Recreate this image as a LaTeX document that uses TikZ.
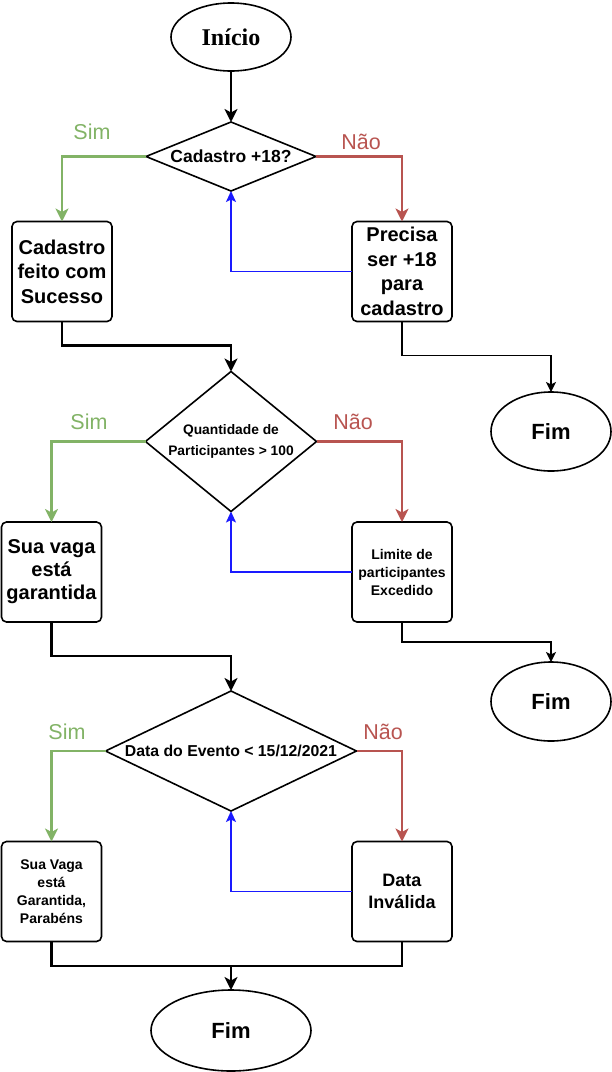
\documentclass[tikz,border=0pt]{standalone}
\usepackage{fontspec}
\setmainfont{Liberation Sans}
\newfontfamily\timesfont{Liberation Serif}
\usetikzlibrary{shapes.geometric,arrows.meta,calc}
\definecolor{simgreen}{HTML}{82B366}
\definecolor{naored}{HTML}{B85450}
\definecolor{backblue}{HTML}{1A1AFF}
\begin{document}
\begin{tikzpicture}[x=1pt,y=-1pt,
  box/.style={draw, line width=1.6pt, rounded corners=5pt, minimum width=100pt, minimum height=100pt, inner sep=0pt, outer sep=0pt, align=center},
  bigtxt/.style={font=\bfseries\fontsize{20}{24.5}\selectfont},
  smalltxt/.style={font=\bfseries\fontsize{14}{18}\selectfont},
  dec/.style={diamond, draw, line width=1.6pt, inner sep=0pt, outer sep=0pt, align=center},
  term/.style={ellipse, draw, line width=1.6pt, inner sep=0pt, outer sep=0pt, font=\bfseries\fontsize{22}{26}\selectfont},
  lab/.style={font=\fontsize{21.5}{26}\selectfont, inner sep=0pt},
  flow/.style={line width=2.6pt, -{Stealth[length=13pt,width=13pt,inset=3.5pt]}},
  thinflow/.style={line width=1.5pt, -{Stealth[length=10pt,width=10pt,inset=2.5pt]}},
  yes/.style={flow, draw=simgreen},
  no/.style={flow, draw=naored},
  back/.style={line width=1.8pt, draw=backblue, -{Stealth[length=11pt,width=10pt,inset=2.5pt]}}
]
\useasboundingbox (0,0) rectangle (612,1072);

% terminals
\node[term, minimum width=120pt, minimum height=68pt, font=\timesfont\bfseries\fontsize{24}{28}\selectfont] (ini) at (231,37) {Início};
\node[term, minimum width=120pt, minimum height=79pt] (fim1) at (551,431.5) {Fim};
\node[term, minimum width=120pt, minimum height=79pt] (fim2) at (551,701.5) {Fim};
\node[term, minimum width=160pt, minimum height=81pt] (fim3) at (231,1030.5) {Fim};

% decisions
\node[dec, minimum width=170pt, minimum height=69pt, aspect=2.46, font=\bfseries\fontsize{17.5}{21}\selectfont] (d1) at (231,156.5) {Cadastro +18?};
\node[dec, minimum width=171pt, minimum height=140pt, aspect=1.22, font=\bfseries\fontsize{13.8}{21.5}\selectfont] (d2) at (231,441.5) {Quantidade de\\Participantes > 100};
\node[dec, minimum width=251pt, minimum height=120pt, aspect=2.09, font=\bfseries\fontsize{15.8}{19}\selectfont] (d3) at (231,751) {Data do Evento < 15/12/2021};

% boxes
\node[box, bigtxt] (b1) at (62,271.5) {Cadastro\\feito com\\Sucesso};
\node[box, bigtxt] (b2) at (402,271.5) {Precisa\\ser +18\\para\\cadastro};
\node[box, font=\bfseries\fontsize{20}{23}\selectfont] (b3) at (51.5,572) {Sua vaga\\está\\garantida};
\node[box, smalltxt] (b4) at (402,572) {Limite de\\participantes\\Excedido};
\node[box, smalltxt] (b5) at (51.5,891.5) {Sua Vaga\\está\\Garantida,\\Parabéns};
\node[box, font=\bfseries\fontsize{18}{22}\selectfont] (b6) at (402,891.5) {Data\\Inválida};

% labels
\node[lab, text=simgreen] (s1) at (92,132) {Sim};
\node[lab, text=naored] (n1) at (361,142) {Não};
\node[lab, text=simgreen] (s2) at (89,422) {Sim};
\node[lab, text=naored] (n2) at (353,422) {Não};
\node[lab, text=simgreen] (s3) at (67,732) {Sim};
\node[lab, text=naored] (n3) at (383,732) {Não};

% level 1
\draw[flow] (ini.south) -- (d1.north);
\draw[yes] (d1.west) -| (b1.north);
\draw[no] (d1.east) -| (b2.north);
\draw[back] (b2.west) -| (d1.south);
\draw[flow] (b1.south) -- ++(0,24) -| (d2.north);
\draw[thinflow] (b2.south) -- ++(0,34) -| (fim1.north);

% level 2
\draw[yes] (d2.west) -| (b3.north);
\draw[no] (d2.east) -| (b4.north);
\draw[back] (b4.west) -| (d2.south);
\draw[flow] (b3.south) -- ++(0,34) -| (d3.north);
\draw[thinflow] (b4.south) -- ++(0,20) -| (fim2.north);

% level 3
\draw[yes] (d3.west) -| (b5.north);
\draw[no] (d3.east) -| (b6.north);
\draw[back] (b6.west) -| (d3.south);
\coordinate (j) at (231,966);
\draw[line width=2.6pt] (b5.south) |- (j) -| (b6.south);
\draw[flow] (j) -- (fim3.north);
\end{tikzpicture}
\end{document}
